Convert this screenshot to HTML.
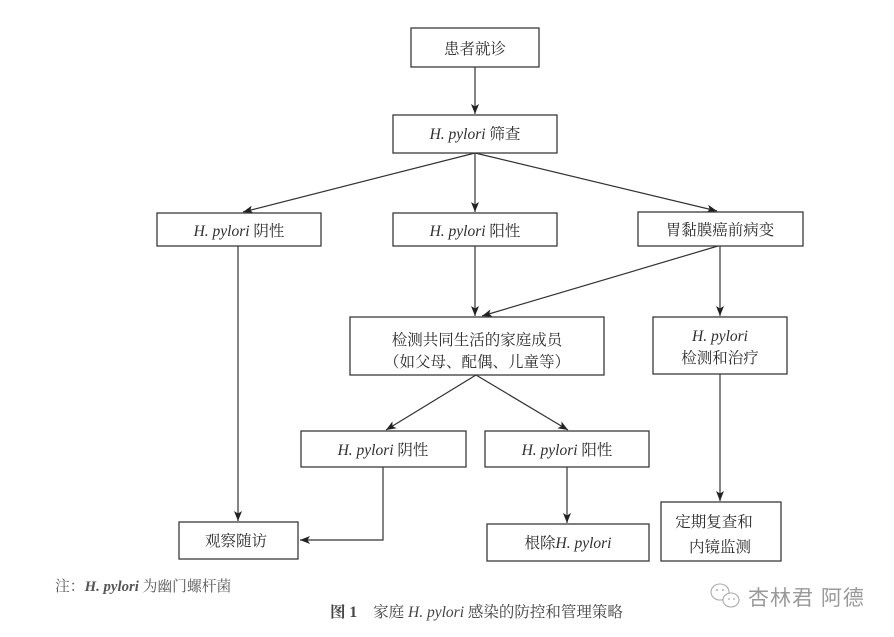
<!DOCTYPE html>
<html>
<head>
<meta charset="utf-8">
<style>
html,body{margin:0;padding:0;background:#fff;}
svg{display:block;}
.bx{fill:#fff;stroke:#3a3a3a;stroke-width:1.3;}
.ln{fill:none;stroke:#333;stroke-width:1.2;}
.t{font-family:"Liberation Serif","Noto Serif CJK SC",serif;font-size:15.5px;fill:#2e2e2e;text-anchor:middle;}
.i{font-style:italic;}
</style>
</head>
<body>
<svg width="894" height="637" viewBox="0 0 894 637" xmlns="http://www.w3.org/2000/svg">
<defs>
<marker id="a" markerUnits="userSpaceOnUse" markerWidth="12" markerHeight="10" refX="10" refY="4" orient="auto">
<path d="M0,0 L10,4 L0,8 L2.5,4 z" fill="#222"/>
</marker>
</defs>

<!-- connectors -->
<line class="ln" x1="475" y1="67" x2="475" y2="114" marker-end="url(#a)"/>
<line class="ln" x1="475" y1="153" x2="243" y2="212" marker-end="url(#a)"/>
<line class="ln" x1="475" y1="153" x2="475" y2="212" marker-end="url(#a)"/>
<line class="ln" x1="475" y1="153" x2="717" y2="211" marker-end="url(#a)"/>
<line class="ln" x1="238" y1="246" x2="238" y2="521" marker-end="url(#a)"/>
<line class="ln" x1="475" y1="246" x2="475" y2="316" marker-end="url(#a)"/>
<line class="ln" x1="718" y1="246" x2="482" y2="316" marker-end="url(#a)"/>
<line class="ln" x1="720" y1="246" x2="720" y2="316" marker-end="url(#a)"/>
<line class="ln" x1="476" y1="375" x2="386" y2="430" marker-end="url(#a)"/>
<line class="ln" x1="476" y1="375" x2="568" y2="430" marker-end="url(#a)"/>
<polyline class="ln" points="383,467 383,540 300,540" marker-end="url(#a)"/>
<line class="ln" x1="567" y1="467" x2="567" y2="523" marker-end="url(#a)"/>
<line class="ln" x1="720" y1="374" x2="720" y2="501" marker-end="url(#a)"/>

<!-- boxes -->
<rect class="bx" x="411" y="28" width="128" height="39"/>
<text class="t" x="475" y="54">患者就诊</text>

<rect class="bx" x="393" y="115" width="164" height="38"/>
<text class="t" x="475" y="139"><tspan class="i">H. pylori</tspan> 筛查</text>

<rect class="bx" x="157" y="213" width="164" height="33"/>
<text class="t" x="239" y="236"><tspan class="i">H. pylori</tspan> 阴性</text>

<rect class="bx" x="393" y="213" width="164" height="33"/>
<text class="t" x="475" y="236"><tspan class="i">H. pylori</tspan> 阳性</text>

<rect class="bx" x="638" y="212" width="165" height="34"/>
<text class="t" x="720" y="235">胃黏膜癌前病变</text>

<rect class="bx" x="350" y="317" width="254" height="58"/>
<text class="t" x="477" y="345">检测共同生活的家庭成员</text>
<text class="t" x="477" y="367">（如父母、配偶、儿童等）</text>

<rect class="bx" x="653" y="317" width="134" height="57"/>
<text class="t i" x="720" y="341">H. pylori</text>
<text class="t" x="720" y="363">检测和治疗</text>

<rect class="bx" x="301" y="431" width="165" height="36"/>
<text class="t" x="383" y="455"><tspan class="i">H. pylori</tspan> 阴性</text>

<rect class="bx" x="485" y="431" width="164" height="36"/>
<text class="t" x="567" y="455"><tspan class="i">H. pylori</tspan> 阳性</text>

<rect class="bx" x="179" y="522" width="119" height="37"/>
<text class="t" x="236" y="546">观察随访</text>

<rect class="bx" x="487" y="524" width="162" height="37"/>
<text class="t" x="568" y="548">根除<tspan class="i">H. pylori</tspan></text>

<rect class="bx" x="661" y="502" width="120" height="59"/>
<text class="t" x="714" y="527">定期复查和</text>
<text class="t" x="720" y="552">内镜监测</text>

<!-- footnote -->
<text x="55" y="591" style="font-family:'Liberation Serif','Noto Serif CJK SC',serif;font-size:14.8px;fill:#555;">注：<tspan style="font-style:italic;font-weight:bold;">H. pylori</tspan> 为幽门螺杆菌</text>

<!-- caption -->
<text x="330" y="617" style="font-family:'Liberation Serif','Noto Serif CJK SC',serif;font-size:15.5px;fill:#444;"><tspan style="font-weight:bold;">图 1</tspan><tspan dx="16">家庭 </tspan><tspan style="font-style:italic;">H. pylori</tspan> 感染的防控和管理策略</text>

<!-- watermark -->
<g fill="none" stroke="#aaa" stroke-width="1.1">
<ellipse cx="720" cy="592" rx="9" ry="8"/>
<ellipse cx="731" cy="600" rx="8" ry="7" fill="#fff"/>
</g>
<g fill="#aaa">
<circle cx="717" cy="590" r="1"/><circle cx="723" cy="590" r="1"/>
<circle cx="729" cy="599" r="0.9"/><circle cx="734" cy="599" r="0.9"/>
</g>
<text x="748" y="605" style="font-family:'Liberation Sans','Noto Sans CJK SC',sans-serif;font-size:21px;letter-spacing:1px;fill:#999;">杏林君 阿德</text>
</svg>
</body>
</html>
